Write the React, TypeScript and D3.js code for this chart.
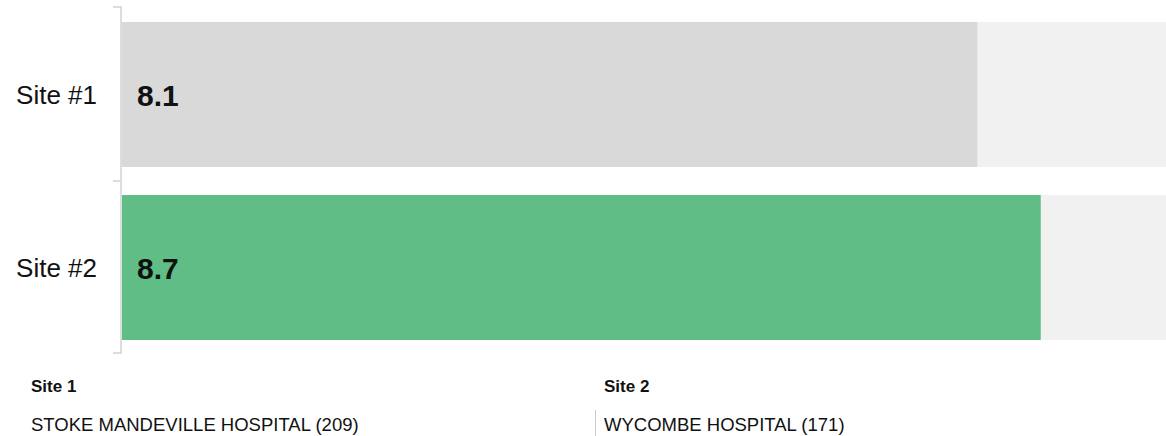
import React from "react";
import * as d3 from "d3";

const categories = ["Site #1", "Site #2"];
const values = [8.1, 8.7];
const barColors = ["#d9d9d9", "#5fbd85"];
const maxValue = 10;
const siteHeaders = ["Site 1", "Site 2"];
const siteNames = ["STOKE MANDEVILLE HOSPITAL (209)", "WYCOMBE HOSPITAL (171)"];

const W = 1166;
const H = 436;
const FONT = "Arial, 'Liberation Sans', Helvetica, sans-serif";

export default function App() {
  const x = d3.scaleLinear().domain([0, maxValue]).range([122, 1178]);
  const y = d3
    .scaleBand<string>()
    .domain(categories)
    .range([8, 354])
    .paddingInner(0.162)
    .paddingOuter(0.081);
  const axisTop = 7;
  const axisBottom = 353;
  const tickYs = [axisTop, (axisTop + axisBottom) / 2 + 1, axisBottom];
  const footX = [31, 604];

  return (
    <div style={{ position: "absolute", left: 0, top: 0 }}>
      <svg width={W} height={H} style={{ display: "block" }}>
        {categories.map((c, i) => {
          const by = y(c)!;
          const bh = y.bandwidth();
          const cy = by + bh / 2;
          return (
            <g key={c}>
              <rect x={x(0)} y={by} width={x(maxValue) - x(0)} height={bh} fill="#f1f1f1" />
              <rect x={x(0)} y={by} width={x(values[i]) - x(0)} height={bh} fill={barColors[i]} />
              <text
                x={97}
                y={cy}
                dy="0.35em"
                textAnchor="end"
                fontFamily={FONT}
                fontSize={26}
                fill="#111"
              >
                {c}
              </text>
              <text
                x={137}
                y={cy}
                dy="0.37em"
                fontFamily={FONT}
                fontSize={30}
                fontWeight="bold"
                fill="#111"
              >
                {d3.format(".1f")(values[i])}
              </text>
            </g>
          );
        })}
        <line x1={121} x2={121} y1={axisTop} y2={axisBottom} stroke="#dddddd" strokeWidth={2} />
        {tickYs.map((ty, i) => (
          <line key={i} x1={113} x2={122} y1={ty} y2={ty} stroke="#dddddd" strokeWidth={2} />
        ))}
        {siteHeaders.map((h, i) => (
          <g key={h}>
            <text x={footX[i]} y={392} fontFamily={FONT} fontSize={17} fontWeight="bold" fill="#111">
              {h}
            </text>
            <text x={footX[i]} y={431} fontFamily={FONT} fontSize={18.5} fill="#111">
              {siteNames[i]}
            </text>
          </g>
        ))}
        <line x1={595.5} x2={595.5} y1={410} y2={436} stroke="#cccccc" strokeWidth={1} />
      </svg>
    </div>
  );
}
